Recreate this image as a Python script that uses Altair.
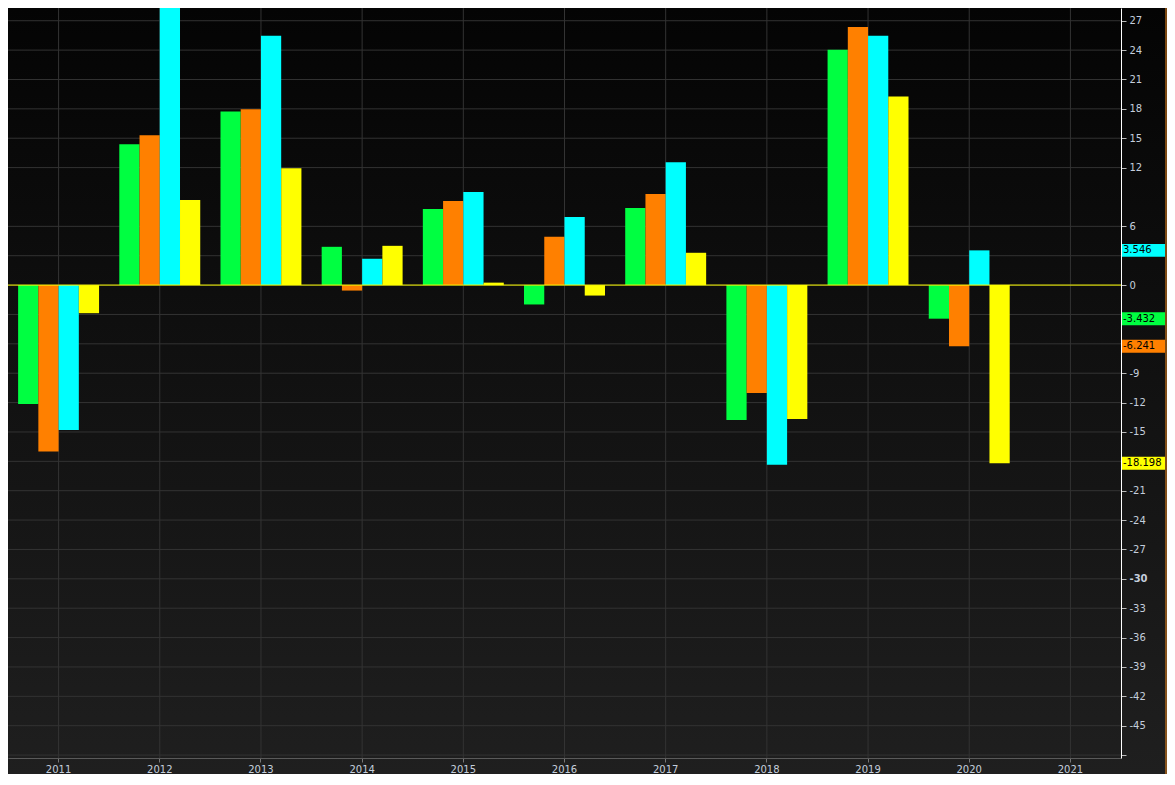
import altair as alt
import pandas as pd

# ---- data ----
years = ["2011", "2012", "2013", "2014", "2015", "2016", "2017", "2018", "2019", "2020", "2021"]
data_years = years[:10]
series = ["Series 1", "Series 2", "Series 3", "Series 4"]
colors = ["#00ff41", "#ff8000", "#00ffff", "#ffff00"]

green = [-12.14, 14.38, 17.73, 3.91, 7.77, -1.98, 7.88, -13.77, 24.03, -3.432]
orange = [-16.99, 15.30, 17.97, -0.56, 8.59, 4.93, 9.30, -11.03, 26.37, -6.241]
cyan = [-14.79, 30.50, 25.46, 2.69, 9.50, 6.96, 12.55, -18.34, 25.46, 3.546]
yellow = [-2.87, 8.69, 11.94, 4.01, 0.25, -1.07, 3.30, -13.67, 19.26, -18.198]

grid_vals = [27, 24, 21, 18, 15, 12, 6, 3, 0, -3, -6, -9, -12, -15, -18, -21, -24,
             -27, -30, -33, -36, -39, -42, -45, -48]
tick_vals = [27, 24, 21, 18, 15, 12, 6, 0, -9, -12, -15, -21, -24,
             -27, -30, -33, -36, -39, -42, -45, -48]

rows = []
for i, yr in enumerate(data_years):
    for s, vals in zip(series, [green, orange, cyan, yellow]):
        rows.append({"year": yr, "series": s, "value": vals[i]})
df = pd.DataFrame(rows)

last_vals = [green[-1], orange[-1], cyan[-1], yellow[-1]]
last_df = pd.DataFrame({
    "series": series,
    "value": last_vals,
    "label": [f"{v:.3f}" for v in last_vals],
})

W, H = 1113, 750
RP, BP = 46, 16
LABEL_COLOR = "#c4cedc"
FONT = "DejaVu Sans"

yscale = alt.Scale(domain=[-48.3, 28.3], nice=False, zero=False)
xscale = alt.Scale(domain=years, paddingInner=0.2, paddingOuter=0.1)
cscale = alt.Scale(domain=series, range=colors)

xaxis = alt.Axis(orient="bottom", grid=False, domainColor="#5a5a5a",
                 tickColor="#777777", tickSize=4, labelColor=LABEL_COLOR,
                 labelFont=FONT, labelFontSize=10, labelPadding=2,
                 labelAngle=0, labelAlign="center", labelBaseline="top",
                 labelOverlap=False, zindex=1)
yaxis = alt.Axis(orient="right", values=tick_vals, grid=False,
                 domainColor="#ffffff", domainWidth=1, tickColor="#bbbbbb",
                 tickSize=5, labelColor=LABEL_COLOR, labelFont=FONT,
                 labelFontSize=10, labelPadding=3, labelOverlap=False,
                 labelAlign="left", labelBaseline="middle",
                 labelExpr="datum.value == -48 ? '' : toString(datum.value)",
                 labelFontWeight={"condition": {"test": "datum.value == -30", "value": "bold"},
                                  "value": "normal"},
                 zindex=1)

bg = alt.Chart(pd.DataFrame({"k": [0]})).mark_rect(
    color=alt.LinearGradient(
        gradient="linear",
        stops=[alt.GradientStop(offset=0, color="#040404"),
               alt.GradientStop(offset=1, color="#1f1f1f")],
        x1=0, x2=0, y1=0, y2=1,
    )
).encode(x=alt.value(0), x2=alt.value(W + RP), y=alt.value(0), y2=alt.value(H + BP))

vgrid = alt.Chart(pd.DataFrame({"year": years})).mark_rule(
    color="#333333", strokeWidth=1
).encode(x=alt.X("year:N", scale=xscale, title=None, axis=xaxis))

hgrid = alt.Chart(pd.DataFrame({"g": grid_vals})).mark_rule(
    color="#333333", strokeWidth=1
).encode(y=alt.Y("g:Q", scale=yscale, title=None, axis=yaxis))

bars = alt.Chart(df).mark_bar(clip=True).encode(
    x=alt.X("year:N", scale=xscale, title=None, axis=xaxis),
    xOffset=alt.XOffset("series:N", scale=alt.Scale(domain=series, paddingInner=0, paddingOuter=0)),
    y=alt.Y("value:Q", scale=yscale, title=None, axis=yaxis),
    color=alt.Color("series:N", scale=cscale, legend=None),
)

zero = alt.Chart(pd.DataFrame({"z": [0]})).mark_rule(color="#ffff00", strokeWidth=1).encode(
    y=alt.Y("z:Q", scale=yscale, title=None, axis=yaxis)
)

boxes = alt.Chart(last_df).transform_calculate(
    lo="datum.value - 0.66", hi="datum.value + 0.66"
).mark_rect().encode(
    x=alt.value(W + 1), x2=alt.value(W + 44),
    y=alt.Y("lo:Q", scale=yscale, title=None, axis=yaxis), y2="hi:Q",
    color=alt.Color("series:N", scale=cscale, legend=None),
)

texts = alt.Chart(last_df).mark_text(
    align="left", baseline="middle", font=FONT, fontSize=10, color="#000000"
).encode(
    x=alt.value(W + 2),
    y=alt.Y("value:Q", scale=yscale, title=None, axis=yaxis),
    text=alt.Text("label:N"),
)

edge = alt.Chart(pd.DataFrame({"k": [0]})).mark_rule(color="#f08a1c", strokeWidth=1).encode(
    x=alt.value(W + 45), y=alt.value(0), y2=alt.value(H + BP)
)

chart = alt.layer(bg, vgrid, hgrid, bars, zero, boxes, texts, edge).properties(
    width=W, height=H,
    autosize=alt.AutoSizeParams(type="none"),
    padding={"left": 0, "top": 0, "right": RP, "bottom": BP},
    background="#141414",
).configure_view(stroke=None)

chart.save("out.html", embed_options={"renderer": "svg", "actions": False})
